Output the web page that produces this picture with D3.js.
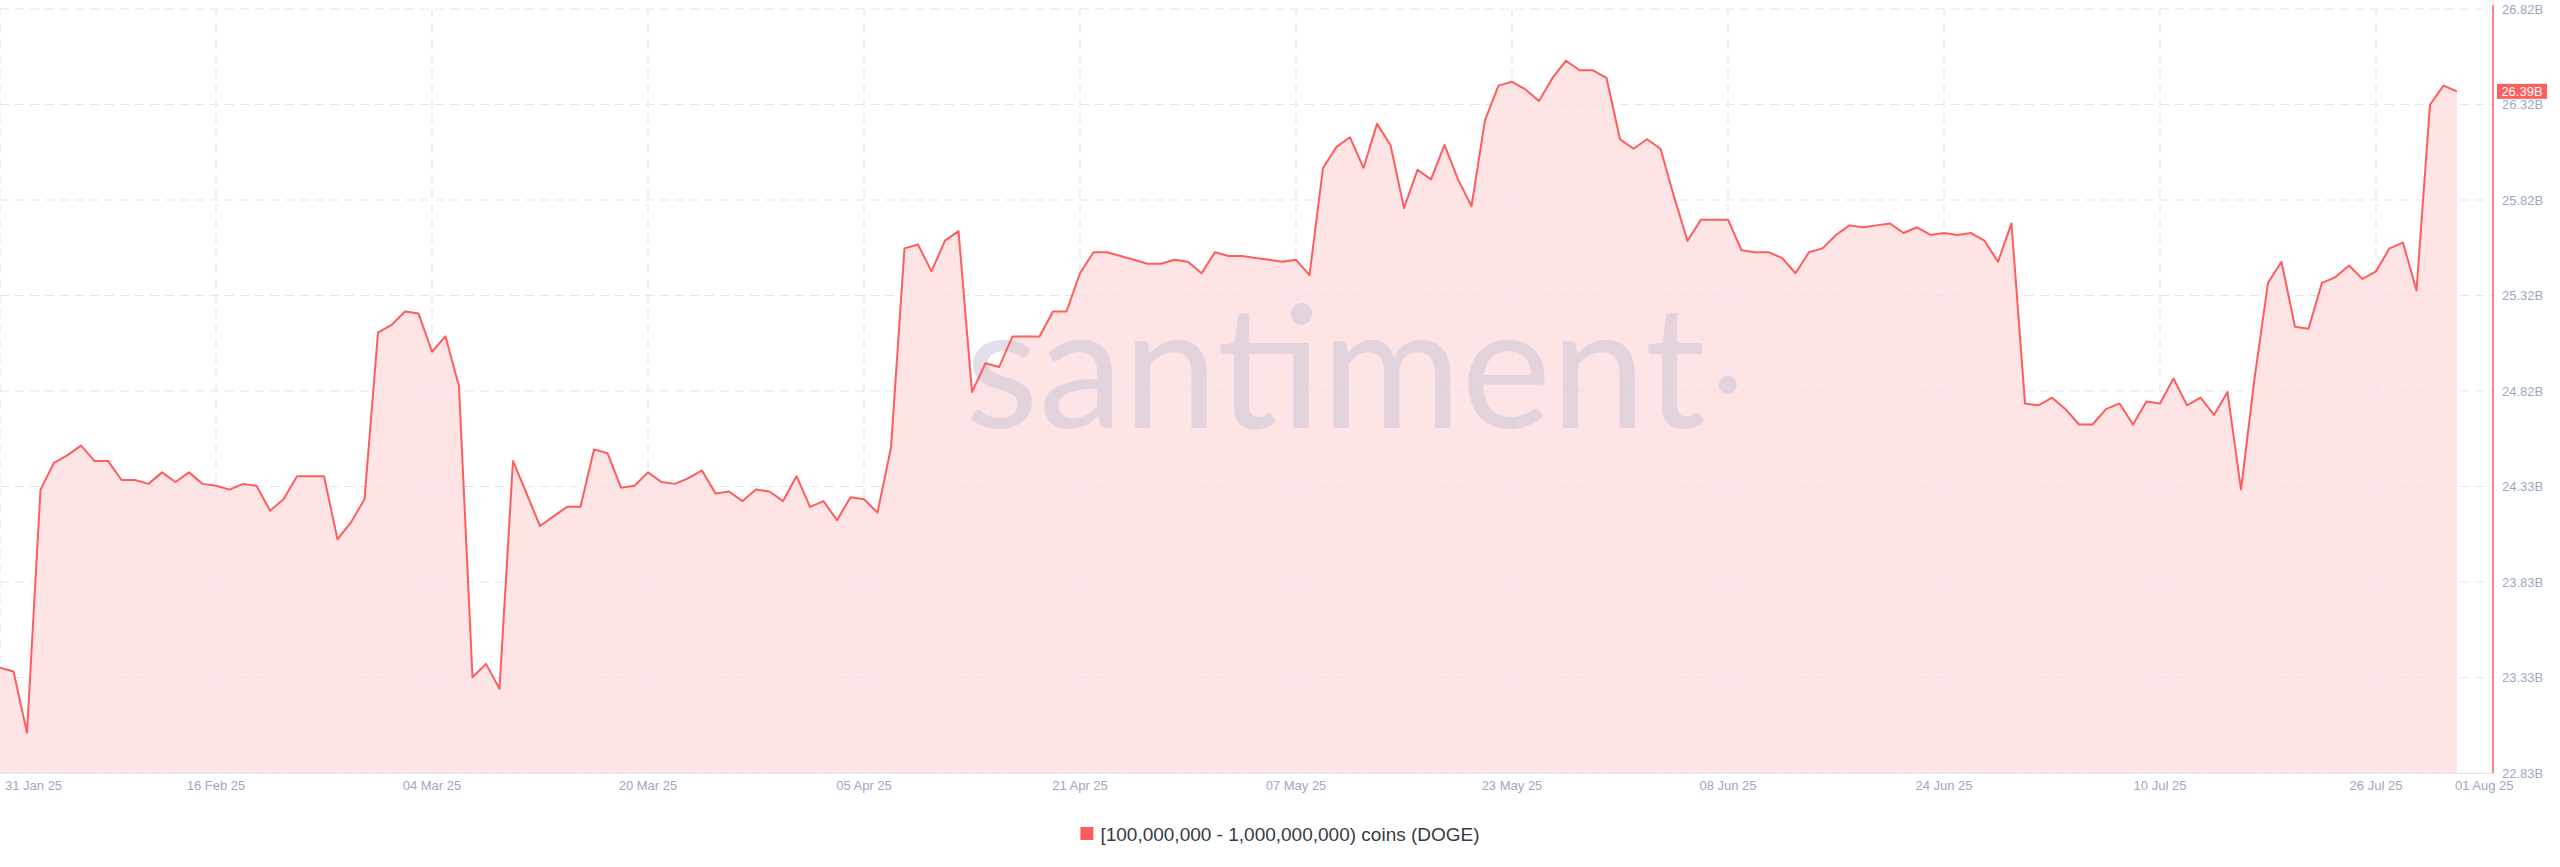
<!DOCTYPE html>
<html><head><meta charset="utf-8">
<script src="https://cdn.jsdelivr.net/npm/d3@7"></script>
<style>html,body{margin:0;padding:0;background:#fff;}svg{display:block;}</style>
</head><body>
<svg id="chart" width="2560" height="867"></svg>
<script>
// ---- data ----
const startDate = "2025-01-31";
const endDate = "2025-08-01";
const holdings = [
  23.38,23.36,23.04,24.31,24.45,24.49,24.54,24.46,24.46,24.36,
  24.36,24.34,24.40,24.35,24.40,24.34,24.33,24.31,24.34,24.33,
  24.20,24.26,24.38,24.38,24.38,24.05,24.14,24.26,25.13,25.17,
  25.24,25.23,25.03,25.11,24.85,23.33,23.40,23.27,24.46,24.29,
  24.12,24.17,24.22,24.22,24.52,24.50,24.32,24.33,24.40,24.35,
  24.34,24.37,24.41,24.29,24.30,24.25,24.31,24.30,24.25,24.38,
  24.22,24.25,24.15,24.27,24.26,24.19,24.53,25.57,25.59,25.45,
  25.61,25.66,24.82,24.97,24.95,25.11,25.11,25.11,25.24,25.24,
  25.44,25.55,25.55,25.53,25.51,25.49,25.49,25.51,25.50,25.44,
  25.55,25.53,25.53,25.52,25.51,25.50,25.51,25.43,25.99,26.10,
  26.15,25.99,26.22,26.11,25.78,25.98,25.93,26.11,25.93,25.79,
  26.24,26.42,26.44,26.40,26.34,26.46,26.55,26.50,26.50,26.46,
  26.14,26.09,26.14,26.09,25.84,25.61,25.72,25.72,25.72,25.56,
  25.55,25.55,25.52,25.44,25.55,25.57,25.64,25.69,25.68,25.69,
  25.70,25.65,25.68,25.64,25.65,25.64,25.65,25.61,25.50,25.70,
  24.76,24.75,24.79,24.73,24.65,24.65,24.73,24.76,24.65,24.77,
  24.76,24.89,24.75,24.79,24.70,24.82,24.31,24.89,25.39,25.50,
  25.16,25.15,25.39,25.42,25.48,25.41,25.45,25.57,25.60,25.35,
  26.32,26.42,26.39
];
const yDomain = [22.83, 26.82];
const yTickLabels = ["22.83B","23.33B","23.83B","24.33B","24.82B","25.32B","25.82B","26.32B","26.82B"];
const xTickDates = ["2025-01-31","2025-02-16","2025-03-04","2025-03-20","2025-04-05","2025-04-21","2025-05-07","2025-05-23","2025-06-08","2025-06-24","2025-07-10","2025-07-26","2025-08-01"];
const xTickLabels = ["31 Jan 25","16 Feb 25","04 Mar 25","20 Mar 25","05 Apr 25","21 Apr 25","07 May 25","23 May 25","08 Jun 25","24 Jun 25","10 Jul 25","26 Jul 25","01 Aug 25"];
const legendLabel = "[100,000,000 - 1,000,000,000) coins (DOGE)";
const lastValueLabel = "26.39B";
const watermarkText = "santiment";

// ---- layout ----
const W = 2560, H = 867;
const plot = {left: 0, right: 2457, top: 9, bottom: 773, axisX: 2493};
const red = "#ff5d5d", fillPink = "#ffe4e6", gridCol = "#e4e6ef", textCol = "#9ea7c2";
const font = "'Liberation Sans', Arial, sans-serif";

const parse = d3.utcParse("%Y-%m-%d");
const t0 = parse(startDate);
const data = holdings.map((v, i) => ({date: d3.utcDay.offset(t0, i), v}));

const x = d3.scaleUtc().domain([t0, parse(endDate)]).range([plot.left, plot.right]);
const y = d3.scaleLinear().domain(yDomain).range([plot.bottom, plot.top]);
const yTicks = yTickLabels.map((_, i) => yDomain[0] + i * (yDomain[1] - yDomain[0]) / (yTickLabels.length - 1));

const svg = d3.select("#chart");
svg.append("rect").attr("width", W).attr("height", H).attr("fill", "#fff");

// area
const area = d3.area().x(d => x(d.date)).y0(plot.bottom).y1(d => y(d.v));
const line = d3.line().x(d => x(d.date)).y(d => y(d.v));
svg.append("path").datum(data).attr("d", area).attr("fill", fillPink);

// grid
const grid = svg.append("g");
grid.selectAll(".hg").data(yTicks).join("line")
  .attr("x1", 0).attr("x2", plot.axisX).attr("y1", d => y(d)).attr("y2", d => y(d))
  .attr("stroke", gridCol).attr("stroke-width", 1.2).attr("stroke-dasharray", "9,6");
grid.selectAll(".vg").data(xTickDates.slice(0, -1)).join("line")
  .attr("x1", d => x(parse(d))).attr("x2", d => x(parse(d)))
  .attr("y1", plot.top).attr("y2", plot.bottom)
  .attr("stroke", gridCol).attr("stroke-width", 1.2).attr("stroke-dasharray", "9,6");

// watermark (above fill)
const wm = svg.append("text").attr("x", 965).attr("y", 428)
  .attr("font-family", "Lato, 'Open Sans', sans-serif").attr("font-size", 170)
  .attr("fill", "#cbc4d6").attr("fill-opacity", 0.55).text(watermarkText);
const wmEnd = 965 + wm.node().getComputedTextLength();
svg.append("circle").attr("cx", wmEnd + 22).attr("cy", 385).attr("r", 9)
  .attr("fill", "#cbc4d6").attr("fill-opacity", 0.55);

svg.append("path").datum(data).attr("d", line).attr("fill", "none")
  .attr("stroke", red).attr("stroke-width", 2).attr("stroke-linejoin", "round");

// bottom axis line
svg.append("line").attr("x1", 0).attr("x2", plot.axisX).attr("y1", plot.bottom + 0.5).attr("y2", plot.bottom + 0.5)
  .attr("stroke", "#e1e6ef").attr("stroke-width", 1);
// right axis line
svg.append("line").attr("x1", plot.axisX).attr("x2", plot.axisX).attr("y1", plot.top - 4).attr("y2", plot.bottom)
  .attr("stroke", red).attr("stroke-width", 1.5);

// x labels
const xl = svg.append("g").attr("font-family", font).attr("font-size", 13).attr("fill", textCol);
xTickDates.forEach((d, i) => {
  let px = x(parse(d));
  let anchor = "middle";
  if (i === 0) { px = 5; anchor = "start"; }
  if (i === xTickDates.length - 1) { px = px - 2; anchor = "start"; }
  xl.append("text").attr("x", px).attr("y", 790).attr("text-anchor", anchor).text(xTickLabels[i]);
});

// y labels
const yl = svg.append("g").attr("font-family", font).attr("font-size", 13).attr("fill", textCol);
yTicks.forEach((t, i) => {
  yl.append("text").attr("x", 2502).attr("y", y(t)).attr("dy", "0.35em").text(yTickLabels[i]);
});

// last value badge
const last = data[data.length - 1];
const by = y(last.v);
svg.append("rect").attr("x", 2497).attr("y", by - 7.5).attr("width", 50).attr("height", 15).attr("fill", red);
svg.append("text").attr("x", 2522).attr("y", by).attr("dy", "0.35em").attr("text-anchor", "middle")
  .attr("font-family", font).attr("font-size", 13).attr("fill", "#fff").text(lastValueLabel);

// legend
const lg = svg.append("g").attr("transform", "translate(1280,834)");
const lt = lg.append("text").attr("font-family", font).attr("font-size", 19).attr("fill", "#363b47")
  .attr("dy", "0.35em").text(legendLabel);
const tw = lt.node().getComputedTextLength();
const total = tw + 20;
lt.attr("x", -total / 2 + 20);
lg.append("rect").attr("x", -total / 2).attr("y", -7).attr("width", 13).attr("height", 13).attr("fill", red);
</script>
</body></html>
